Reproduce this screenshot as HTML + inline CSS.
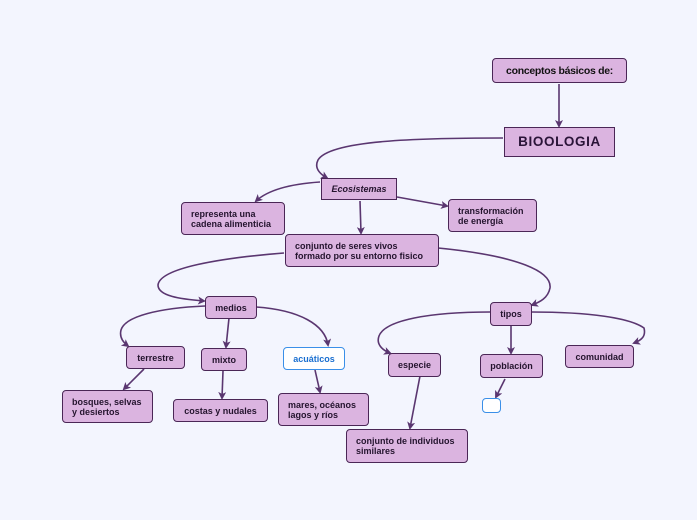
<!DOCTYPE html>
<html><head><meta charset="utf-8"><style>
body{margin:0;width:697px;height:520px;background:#f3f5fe;position:relative;overflow:hidden;font-family:"Liberation Sans","DejaVu Sans",sans-serif}
.b{position:absolute;box-sizing:border-box;background:#dbb4e0;border:1.5px solid #4a2656;border-radius:4px;color:#24142e;font-weight:bold;font-size:9px;line-height:10px;display:flex;align-items:center;padding-left:9px}
.c{justify-content:center;padding:0}
svg{position:absolute;left:0;top:0}
</style></head><body>
<svg width="697" height="520" viewBox="0 0 697 520">
<defs><marker id="a" markerWidth="8" markerHeight="8" refX="6" refY="4" orient="auto" markerUnits="userSpaceOnUse"><path d="M0,0 L8,4 L0,8 L2,4z" fill="#5a3670"/></marker></defs>
<g fill="none" stroke="#5a3670" stroke-width="1.6" marker-end="url(#a)">
<path d="M559,84 L559,126"/>
<path d="M503,138 C420,138 330,140 318,160 C314,168 320,174 327,178"/>
<path d="M320,182 C290,184 268,190 256,201"/>
<path d="M397,197 L447,206"/>
<path d="M360,201 L361,233"/>
<path d="M284,253 C220,258 160,268 158,285 C158,296 180,299 204,301"/>
<path d="M438,248 C520,256 552,272 550,288 C548,298 540,302 532,305"/>
<path d="M205,306 C160,308 125,316 121,330 C119,338 124,343 128,346"/>
<path d="M229,318 L226,347"/>
<path d="M256,307 C300,310 325,325 328,345"/>
<path d="M490,312 C430,312 385,320 379,336 C376,344 382,350 390,353"/>
<path d="M511,325 L511,353"/>
<path d="M531,312 C590,312 630,318 644,328 C646,336 642,340 634,343"/>
<path d="M144,369 L124,389"/>
<path d="M223,371 L222,398"/>
<path d="M315,370 L320,392"/>
<path d="M420,376 L410,428"/>
<path d="M505,379 L496,397"/>
</g></svg>
<div class="b c" style="left:492px;top:58px;width:135px;height:25px;font-size:10.5px;color:#111;letter-spacing:-0.3px">conceptos básicos de:</div>
<div class="b c" style="left:504px;top:127px;width:111px;height:30px;font-size:13.5px;border-radius:0;letter-spacing:0.6px;color:#2a1438">BIOOLOGIA</div>
<div class="b c" style="left:321px;top:178px;width:76px;height:22px;font-style:italic;border-radius:0">Ecosistemas</div>
<div class="b" style="left:181px;top:202px;width:104px;height:33px">representa una<br>cadena alimenticia</div>
<div class="b" style="left:448px;top:199px;width:89px;height:33px">transformación<br>de energía</div>
<div class="b" style="left:285px;top:234px;width:154px;height:33px">conjunto de seres vivos<br>formado por su entorno fisico</div>
<div class="b c" style="left:205px;top:296px;width:52px;height:23px">medios</div>
<div class="b c" style="left:490px;top:302px;width:42px;height:24px">tipos</div>
<div class="b c" style="left:126px;top:346px;width:59px;height:23px">terrestre</div>
<div class="b c" style="left:201px;top:348px;width:46px;height:23px">mixto</div>
<div class="b c" style="left:283px;top:347px;width:62px;height:23px;background:#fff;border-color:#3a8fe8;color:#1a6fd0">acuáticos</div>
<div class="b c" style="left:388px;top:353px;width:53px;height:24px">especie</div>
<div class="b c" style="left:480px;top:354px;width:63px;height:24px">población</div>
<div class="b c" style="left:565px;top:345px;width:69px;height:23px">comunidad</div>
<div class="b" style="left:482px;top:398px;width:19px;height:15px;background:#fff;border-color:#3a8fe8;padding:0"></div>
<div class="b" style="left:62px;top:390px;width:91px;height:33px">bosques, selvas<br>y desiertos</div>
<div class="b c" style="left:173px;top:399px;width:95px;height:23px">costas y nudales</div>
<div class="b" style="left:278px;top:393px;width:91px;height:33px">mares, océanos<br>lagos y ríos</div>
<div class="b" style="left:346px;top:429px;width:122px;height:34px">conjunto de individuos<br>similares</div>
</body></html>
